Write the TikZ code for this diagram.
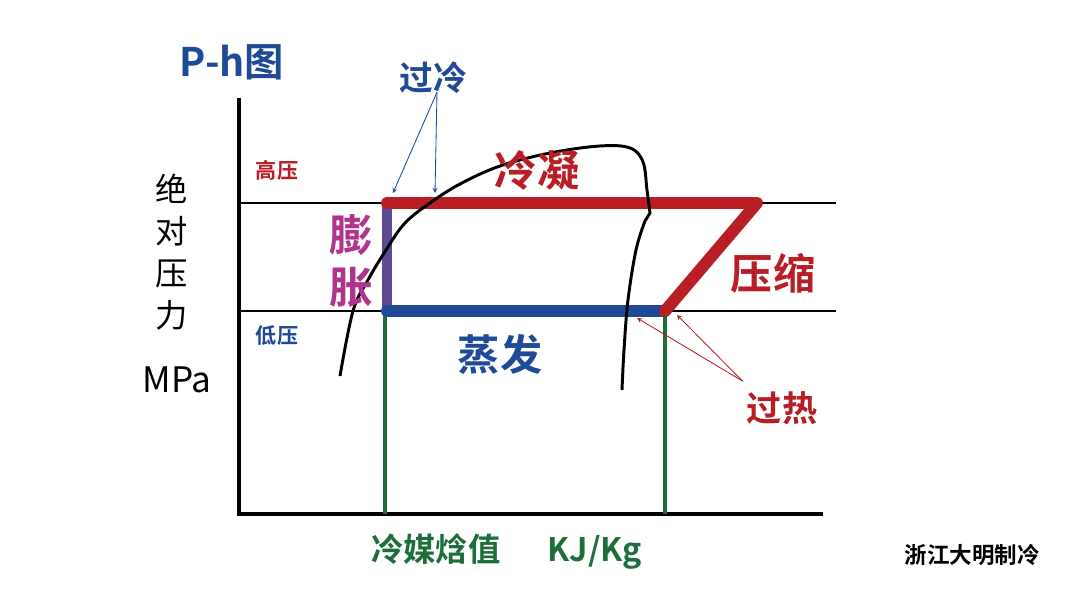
\documentclass[tikz,border=0pt]{standalone}
\usepackage{fontspec}
\setmainfont{Noto Sans CJK SC}[BoldFont={Noto Sans CJK SC Bold}]
\definecolor{phred}{RGB}{185,30,36}
\definecolor{phblue}{RGB}{30,74,150}
\definecolor{phpurple}{RGB}{92,74,146}
\definecolor{phmagenta}{RGB}{176,52,138}
\definecolor{phgreen}{RGB}{30,110,60}
\tikzset{
  cycleline/.style={line width=8.5pt,line cap=round,line join=round},
  pointer/.style={->,line width=0.6pt},
  label/.style={font=\bfseries\fontsize{#1}{#1}\selectfont,inner sep=0pt},
}
\begin{document}
\begin{tikzpicture}[x=0.025cm,y=-0.025cm,>=stealth]
\useasboundingbox (0,0) rectangle (1080,610);
% pressure levels
\draw[line width=1.4pt] (239,203) -- (836,203);
\draw[line width=1.4pt] (239,311) -- (836,311);
% axes
\draw[line width=2.8pt] (239,98) -- (239,514) -- (823,514);
% cycle corners
\coordinate (A) at (387,203);
\coordinate (B) at (757,203);
\coordinate (C) at (665,311);
\coordinate (D) at (387,311);
\coordinate (Dx) at (385,514);
\coordinate (Cx) at (665,514);
\draw[phgreen,line width=2.3pt] (385,311) -- (Dx);
\draw[phgreen,line width=2.3pt] (C) -- (Cx);
\draw[phpurple,line width=7pt] (A) -- (D);
\draw[phblue,cycleline] (D) -- (C);
\draw[phred,cycleline] (A) -- (B) -- (C);
% saturation dome
\draw[line width=2.1pt] plot[smooth,tension=0.6] coordinates {(340,376) (353,311) (368,280) (386,250) (405,223) (430,203) (460,184) (500,166) (550,153) (600,146) (630,148) (643,162) (647,190) (650,213)}
  -- plot[smooth,tension=0.6] coordinates {(645,221) (636,250) (628,300) (624,350) (622,390)};
% texts
\node[label=28pt,phblue] (title) at (232,62) {P-h图};
\node[label=24pt,phblue] (subcool) at (433,78) {过冷};
\node[label=30pt,phred] (cond) at (537,170) {冷凝};
\node[label=15pt,phred] (high) at (277,170) {高压};
\node[label=15pt,phblue] (low) at (277,336) {低压};
\node[label=31pt,phmagenta,align=center] (expand) at (351,261) {膨\\[6pt]胀};
\node[label=30pt,phred] (comp) at (773,273) {压缩};
\node[label=30pt,phblue] (evap) at (500,354) {蒸发};
\node[label=25pt,phred] (superheat) at (782,408) {过热};
\node[font=\fontsize{23pt}{23pt}\selectfont,inner sep=0pt,align=center] (pres) at (172,252) {绝\\[7pt]对\\[7pt]压\\[7pt]力};
\node[font=\fontsize{25pt}{25pt}\selectfont,inner sep=0pt] (unit) at (177,380) {MPa};
\node[label=23pt,phgreen,anchor=west] (enth) at (371,552) {冷媒焓值\quad\ \ KJ/Kg};
\node[font=\bfseries\fontsize{16pt}{16pt}\selectfont,inner sep=0pt] (brand) at (972,555) {浙江大明制冷};
% pointers
\coordinate (sc1) at (393,193);
\coordinate (sc2) at (435,193);
\coordinate (sh1) at (637,318);
\coordinate (sh2) at (677,315);
\draw[phblue,pointer] (subcool.south) ++(4,-2) coordinate (scs) -- (sc1);
\draw[phblue,pointer] (scs) -- (sc2);
\draw[phred,pointer] (superheat.north west) ++(-4,-10) coordinate (shs) -- (sh1);
\draw[phred,pointer] (shs) -- (sh2);
\end{tikzpicture}
\end{document}
